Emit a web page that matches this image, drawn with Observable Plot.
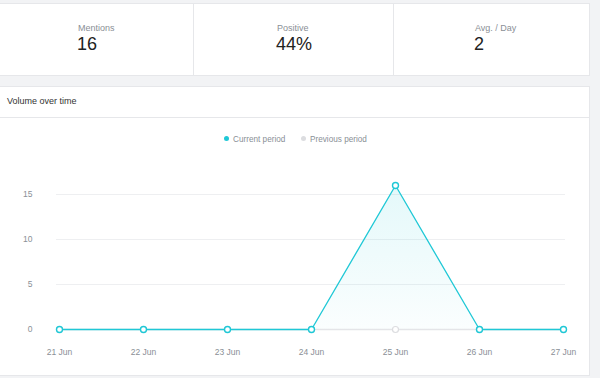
<!DOCTYPE html>
<html>
<head>
<meta charset="utf-8">
<script src="https://cdn.jsdelivr.net/npm/d3@7"></script>
<script src="https://cdn.jsdelivr.net/npm/@observablehq/plot@0.6"></script>
<style>
  html, body { margin: 0; padding: 0; }
  body { width: 600px; height: 378px; background: #f2f3f5; position: relative; overflow: hidden;
         font-family: "Helvetica Neue", "Liberation Sans", Arial, sans-serif; }
  .card { position: absolute; background: #fff; border: 1px solid #e6e7ea; box-sizing: border-box; }
  .stat { position: absolute; top: 0; height: 100%; border-right: 1px solid #e6e7ea; box-sizing: border-box; }
  .stat .lbl { position: absolute; top: 19px; font-size: 9px; color: #8a8f96; }
  .stat .val { position: absolute; top: 30px; font-size: 18px; color: #222; }
  #header { position: absolute; left: 0; top: 0; width: 100%; height: 31px; border-bottom: 1px solid #e6e7ea; box-sizing: border-box; }
  #header span { position: absolute; left: 7px; top: 9px; font-size: 9px; color: #333; }
  #legend { position: absolute; top: 48px; left: 0; width: 100%; font-size: 8.2px; color: #8a8f96; }
  #legend .item { position: absolute; top: 0; white-space: nowrap; }
  #legend .dot { display: inline-block; width: 5px; height: 5px; border-radius: 50%; margin-right: 4px; vertical-align: 1px; }
  #chart { position: absolute; left: 0; top: 84px; }
</style>
</head>
<body>
<div class="card" style="left:-8px; top:3px; width:598px; height:73px;">
  <div class="stat" style="left:0; width:201px;"><div class="lbl" style="left:85px">Mentions</div><div class="val" style="left:84px">16</div></div>
  <div class="stat" style="left:201px; width:200px;"><div class="lbl" style="left:83px">Positive</div><div class="val" style="left:82px">44%</div></div>
  <div class="stat" style="left:401px; width:197px; border-right:none;"><div class="lbl" style="left:81px">Avg. / Day</div><div class="val" style="left:80px">2</div></div>
</div>
<div class="card" id="panel" style="left:-1px; top:86px; width:591px; height:290px;">
  <div id="header"><span>Volume over time</span></div>
  <div id="legend">
    <div class="item" style="left:224px"><span class="dot" style="background:#1fc8d6"></span>Current period</div>
    <div class="item" style="left:301px"><span class="dot" style="background:#dcdde0"></span>Previous period</div>
  </div>
  <div id="chart"></div>
</div>
<script>
const days = ["21 Jun", "22 Jun", "23 Jun", "24 Jun", "25 Jun", "26 Jun", "27 Jun"];
const currentPeriod = [0, 0, 0, 0, 16, 0, 0];
const previousPeriod = [0, 0, 0, 0, 0, 0, 0];
const yTicks = [0, 5, 10, 15];
const gridTicks = [5, 10, 15];

const cur = days.map((d, i) => ({day: d, value: currentPeriod[i]}));
const prev = days.map((d, i) => ({day: d, value: previousPeriod[i]}));
const teal = "#1fc8d6";

const plot = Plot.plot({
  width: 589,
  height: 190,
  marginLeft: 56,
  marginRight: 24,
  marginTop: 14,
  marginBottom: 32,
  style: {fontFamily: "'Helvetica Neue', 'Liberation Sans', Arial, sans-serif", fontSize: "8.5px", color: "#8a8f96", background: "transparent"},
  x: {type: "point", domain: days, padding: 0},
  y: {domain: [0, 16]},
  marks: [
    Plot.ruleY(gridTicks, {stroke: "#eeeff1", strokeWidth: 1}),
    Plot.axisY(yTicks, {tickSize: 0, tickPadding: 24, label: null, fill: "#8a8f96"}),
    Plot.axisX(days, {tickSize: 0, tickPadding: 19, label: null, fill: "#8a8f96"}),
    Plot.areaY(cur, {x: "day", y: "value", fill: "url(#areaGrad)"}),
    Plot.lineY(prev, {x: "day", y: "value", stroke: "#e4e5e8", strokeWidth: 1.3}),
    Plot.dot(prev, {x: "day", y: "value", r: 3, stroke: "#dcdde0", fill: "#fff", strokeWidth: 1.2}),
    Plot.lineY(cur, {x: "day", y: "value", stroke: teal, strokeWidth: 1.3}),
    Plot.dot(cur, {x: "day", y: "value", r: 3, stroke: teal, fill: "#fff", strokeWidth: 1.4})
  ]
});

const svg = d3.select(plot);
const defs = svg.insert("defs", ":first-child");
const g = defs.append("linearGradient").attr("id", "areaGrad").attr("x1", 0).attr("y1", 0).attr("x2", 0).attr("y2", 1);
g.append("stop").attr("offset", "0%").attr("stop-color", teal).attr("stop-opacity", 0.12);
g.append("stop").attr("offset", "100%").attr("stop-color", teal).attr("stop-opacity", 0.02);

document.getElementById("chart").appendChild(plot);
</script>
</body>
</html>
